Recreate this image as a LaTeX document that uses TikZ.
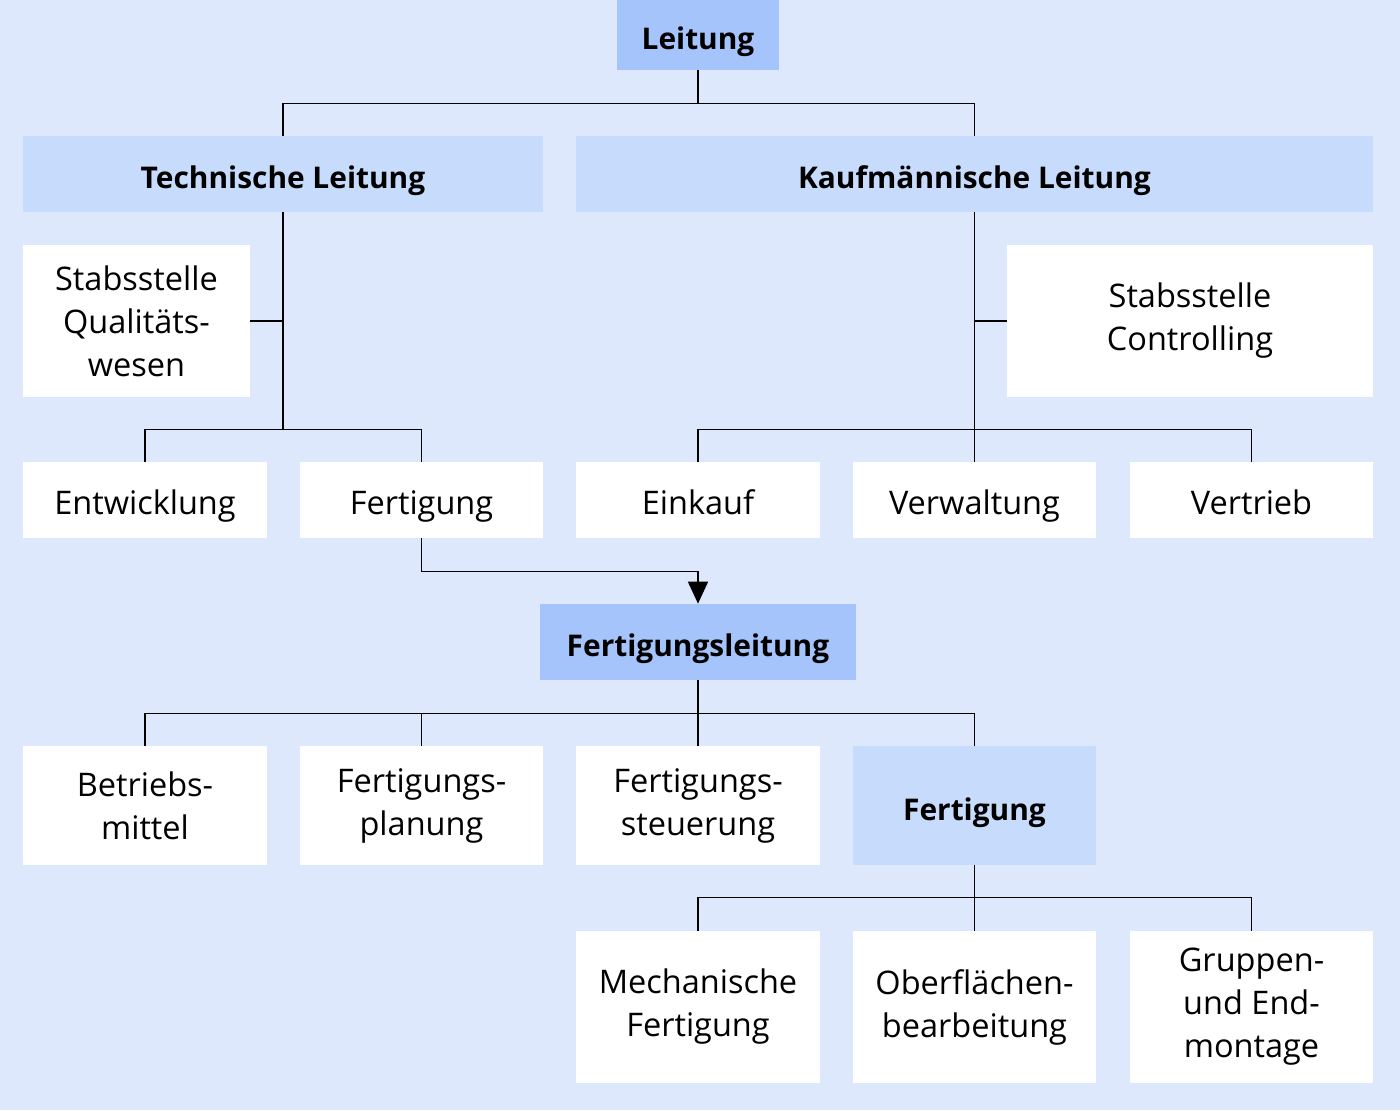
\documentclass[tikz,border=0pt]{standalone}
\usepackage{fontspec}
\setmainfont{Open Sans}
\usepackage{tikz}
\usetikzlibrary{arrows.meta}
\definecolor{canvas}{HTML}{DDE8FD}
\definecolor{headdark}{HTML}{A4C4FB}
\definecolor{headlight}{HTML}{C7DBFC}
\definecolor{unitfill}{HTML}{FFFFFF}
\tikzset{
    unitbox/.style={
        fill=unitfill, inner sep=0pt,
        minimum width=4.88cm, minimum height=1.52cm,
        font=\fontsize{18.5}{24.5}\selectfont, align=center
    },
    oneline/.style={text height=19pt, text depth=2pt},
    tallbox/.style={
        unitbox, minimum height=2.38cm
    },
    staffbox/.style={
        unitbox, minimum height=3.04cm
    },
    topbox/.style={
        fill=headdark, inner sep=0pt,
        minimum height=1.52cm, oneline,
        font=\fontsize{17}{24.5}\selectfont\bfseries, align=center
    },
    areabox/.style={
        fill=headlight, inner sep=0pt,
        minimum height=1.52cm, oneline,
        font=\fontsize{17}{24.5}\selectfont\bfseries, align=center
    },
    link/.style={line width=0.9pt, black},
    arrow/.style={-{Triangle[length=4.4mm,width=4mm]}, line width=0.9pt, black},
}
\begin{document}
\begin{tikzpicture}[x=0.02cm, y=-0.02cm]
    \fill[canvas] (0,0) rectangle (1400,1110);
    \useasboundingbox (0,0) rectangle (1400,1110);
    % Leitung
    \node[topbox, minimum width=3.24cm, minimum height=1.4cm] (lead) at (698,35) {Leitung};
    \node[areabox, minimum width=10.4cm] (tech) at (283,174) {Technische Leitung};
    \node[areabox, minimum width=15.94cm] (comm) at (974.5,174) {Kaufmännische Leitung};
    % Stabsstellen
    \node[staffbox, minimum width=4.54cm] (qual) at (136.5,321) {Stabsstelle\\Qualitäts-\\wesen};
    \node[staffbox, minimum width=7.32cm] (ctrl) at (1190,321) {Stabsstelle\\Controlling};
    % Bereiche
    \node[unitbox, oneline] (dev) at (145,500) {Entwicklung};
    \node[unitbox, oneline] (prod) at (421.5,500) {Fertigung};
    \node[unitbox, oneline] (buy) at (698,500) {Einkauf};
    \node[unitbox, oneline] (admin) at (974.5,500) {Verwaltung};
    \node[unitbox, oneline] (sales) at (1251.5,500) {Vertrieb};
    % Fertigungsleitung
    \node[topbox, minimum width=6.32cm] (plead) at (698,642) {Fertigungsleitung};
    \node[tallbox] (equip) at (145,805.5) {Betriebs-\\mittel};
    \node[tallbox] (plan) at (421.5,805.5) {Fertigungs-\\planung};
    \node[tallbox] (ctl) at (698,805.5) {Fertigungs-\\steuerung};
    \node[areabox, minimum width=4.88cm, minimum height=2.38cm] (shop) at (974.5,805.5) {Fertigung};
    \node[staffbox] (mech) at (698,1007) {Mechanische\\Fertigung};
    \node[staffbox] (surf) at (974.5,1007) {Oberflächen-\\bearbeitung};
    \node[staffbox] (asm) at (1251.5,1007) {Gruppen-\\und End-\\montage};
    % connectors
    \draw[link] (lead.south) -- ++(0,33) -| (tech.north);
    \draw[link] (lead.south) -- ++(0,33) -| (comm.north);
    \coordinate (tj) at ([yshift=0.64cm]tech.south |- dev.north);
    \draw[link] (tech.south) -- (tj);
    \draw[link] (qual.east) -- (qual.east -| tech.south);
    \draw[link] (tj) -| (dev.north);
    \draw[link] (tj) -| (prod.north);
    \draw[link] (comm.south) -- (admin.north);
    \draw[link] (ctrl.west) -- (ctrl.west -| comm.south);
    \draw[link] (buy.north) -- ++(0,-32) -| (sales.north);
    \draw[arrow] (prod.south) -- ++(0,33) -| (plead.north);
    \draw[link] (plead.south) -- ++(0,33) coordinate (pj);
    \draw[link] (pj) -| (equip.north);
    \draw[link] (pj) -| (plan.north);
    \draw[link] (pj) -- (ctl.north);
    \draw[link] (pj) -| (shop.north);
    \draw[link] (shop.south) -- (surf.north);
    \draw[link] (mech.north) -- ++(0,-33) -| (asm.north);
\end{tikzpicture}
\end{document}
